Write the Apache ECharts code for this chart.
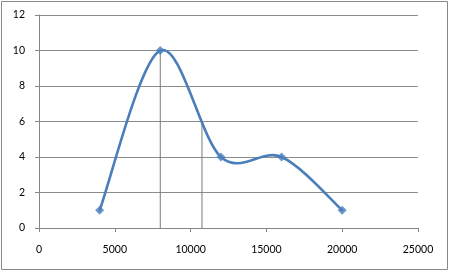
<!DOCTYPE html>
<html><head><meta charset="utf-8">
<script src="https://cdn.jsdelivr.net/npm/echarts@6/dist/echarts.min.js"></script>
<style>html,body{margin:0;padding:0;background:#fff}#c{width:450px;height:271px}</style>
</head><body><div id="c"></div>
<script>
const xValues = [4000, 8000, 12000, 16000, 20000];
const yValues = [1, 10, 4, 4, 1];
const dropX = [8000, 10750];
const dropY = [10, 6];
const xTicks = [0, 5000, 10000, 15000, 20000, 25000];
const yTicks = [0, 2, 4, 6, 8, 10, 12];

const chart = echarts.init(document.getElementById('c'), null, {renderer: 'canvas'});
const font = 'Lato, "Open Sans", sans-serif';
const BLUE = '#4a7ebb';
const pts = xValues.map((x, i) => [x, yValues[i]]);

const series = [];
dropX.forEach((x, i) => {
  series.push({
    type: 'line', data: [[x, 0], [x, dropY[i]]], symbol: 'none', silent: true,
    lineStyle: {color: '#7a7a7a', width: 1}, z: 1
  });
});
// Excel-style smoothed line: cubic Bezier segments with Catmull-Rom control points (tension 1/6),
// computed in pixel space from the data points via the axis scales.
series.push({
  type: 'custom',
  data: pts.slice(0, pts.length - 1).map((p, i) => [p[0], p[1], i]),
  encode: {x: 0, y: 1},
  z: 2,
  silent: true,
  renderItem: function (params, api) {
    const i = params.dataIndex;
    const c = pts.map(p => api.coord(p));
    const p0 = c[Math.max(i - 1, 0)], p1 = c[i], p2 = c[i + 1], p3 = c[Math.min(i + 2, c.length - 1)];
    return {
      type: 'bezierCurve',
      shape: {
        x1: p1[0], y1: p1[1], x2: p2[0], y2: p2[1],
        cpx1: p1[0] + (p2[0] - p0[0]) / 6, cpy1: p1[1] + (p2[1] - p0[1]) / 6,
        cpx2: p2[0] - (p3[0] - p1[0]) / 6, cpy2: p2[1] - (p3[1] - p1[1]) / 6
      },
      style: {stroke: BLUE, lineWidth: 2.6, fill: null, lineCap: 'round'}
    };
  }
});
series.push({
  type: 'scatter', data: pts, symbol: 'diamond', symbolSize: 9,
  itemStyle: {color: BLUE}, z: 3
});
chart.setOption({
  animation: false,
  grid: {left: 39, right: 32, top: 15, bottom: 43, containLabel: false},
  xAxis: {
    type: 'value', min: xTicks[0], max: xTicks[xTicks.length - 1], interval: 5000,
    axisLine: {show: true, lineStyle: {color: '#868686', width: 1}},
    axisTick: {show: true, length: 4, lineStyle: {color: '#868686'}},
    splitLine: {show: false},
    axisLabel: {margin: 16, color: '#000', fontFamily: font, fontSize: 10.5, formatter: v => String(v)}
  },
  yAxis: {
    type: 'value', min: yTicks[0], max: yTicks[yTicks.length - 1], interval: 2,
    axisLine: {show: true, lineStyle: {color: '#868686', width: 1}},
    axisTick: {show: true, length: 4, lineStyle: {color: '#868686'}},
    splitLine: {show: true, lineStyle: {color: '#8c8c8c', width: 1}},
    axisLabel: {margin: 14, color: '#000', fontFamily: font, fontSize: 10.5, formatter: v => String(v)}
  },
  graphic: [{
    type: 'rect', shape: {x: 1.5, y: 1.5, width: 446, height: 268},
    style: {fill: 'none', stroke: '#888', lineWidth: 1}, silent: true
  }],
  series: series
});
</script></body></html>
